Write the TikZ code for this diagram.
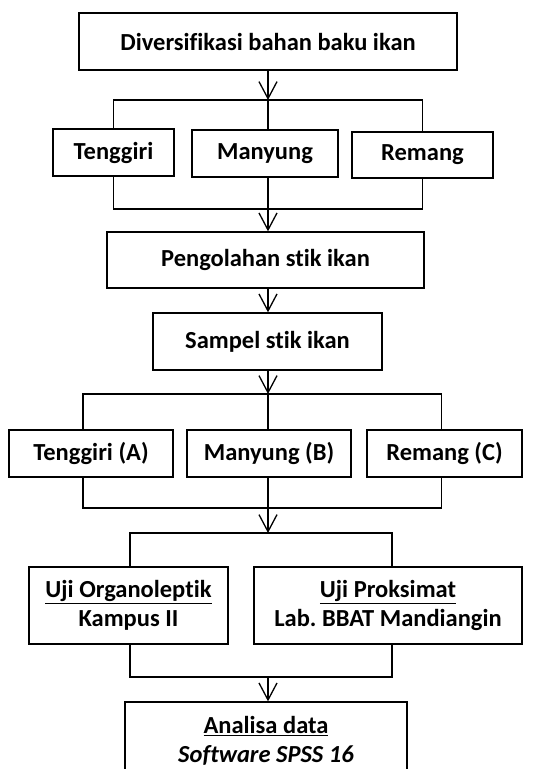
\documentclass[tikz,border=0pt]{standalone}
\usepackage{fontspec}
\setmainfont{Carlito}[Ligatures=NoCommon]
\usetikzlibrary{arrows.meta}
\frenchspacing
\begin{document}
\begin{tikzpicture}[x=1pt,y=-1pt,font=\bfseries\fontsize{24.5}{29}\selectfont, line width=1.3pt, line join=miter,
	>={Straight Barb[length=17pt,width=18pt,line width=1.3pt]},
	kotak/.style={draw,rectangle,inner sep=0pt,align=center}]
				\clip (0,0) rectangle (548,769);
				\node[kotak,minimum width=378pt,minimum height=57pt] (bahan) at (268,41.5) {Diversifikasi bahan baku ikan};
				\node[kotak,minimum width=121pt,minimum height=47pt] (tenggiri) at (113.5,152.5) {Tenggiri};
				\node[kotak,minimum width=146pt,minimum height=47pt] (manyung) at (265,153.5) {Manyung};
				\node[kotak,minimum width=141pt,minimum height=46pt] (remang) at (422.5,155) {Remang};
				\node[kotak,minimum width=317pt,minimum height=56pt] (olah) at (265.5,260) {Pengolahan stik ikan};
				\node[kotak,minimum width=229pt,minimum height=57pt] (sampel) at (267.5,341.5) {Sampel stik ikan};
				\node[kotak,minimum width=164pt,minimum height=47pt] (sa) at (91,453.5) {Tenggiri (A)};
				\node[kotak,minimum width=164pt,minimum height=47pt] (sb) at (269,453.5) {Manyung (B)};
				\node[kotak,minimum width=155pt,minimum height=47pt] (sc) at (444.5,453.5) {Remang (C)};
				\node[kotak,minimum width=199pt,minimum height=77pt] (organo) at (128.5,605.5) {\underline{Uji Organoleptik}\\Kampus II};
				\node[kotak,minimum width=268pt,minimum height=77pt] (proksi) at (388,605.5) {\underline{Uji Proksimat}\\Lab. BBAT Mandiangin};
				\node[kotak,minimum width=282pt,minimum height=78pt] (analisa) at (266,741) {\underline{Analisa data}\\\textit{Software SPSS 16}};
				\coordinate (s1) at (268,100);
				\coordinate (j1) at (268,209);
				\coordinate (s2) at (268,394);
				\coordinate (j2) at (268,508);
				\coordinate (s3) at (268,533);
				\coordinate (j3) at (268,677);
				\draw[->] (bahan) -- (s1);
				\draw (tenggiri.north) |- (s1) -| (remang.north);
				\draw (s1) -- (s1 |- manyung.north);
				\draw (tenggiri.south) |- (j1) -| (remang.south);
				\draw[->] (j1 |- manyung.south) -- (olah.north -| j1);
				\draw[->] (olah.south -| j1) -- (sampel.north -| j1);
				\draw[->] (sampel.south -| s2) -- (s2);
				\draw ([xshift=-8pt]sa.north) |- (s2) -| ([xshift=-3pt]sc.north);
				\draw (s2) -- (s2 |- sb.north);
				\draw ([xshift=-8pt]sa.south) |- (j2) -| ([xshift=-3pt]sc.south);
				\draw (j2 |- sb.south) -- (j2);
				\draw[->] (j2) -- (s3);
				\draw ([xshift=1.5pt]organo.north) |- (s3) -| ([xshift=4pt]proksi.north);
				\draw ([xshift=1.5pt]organo.south) |- (j3) -| ([xshift=4pt]proksi.south);
				\draw[->] (j3) -- (analisa.north -| j3);
			\end{tikzpicture}
\end{document}
